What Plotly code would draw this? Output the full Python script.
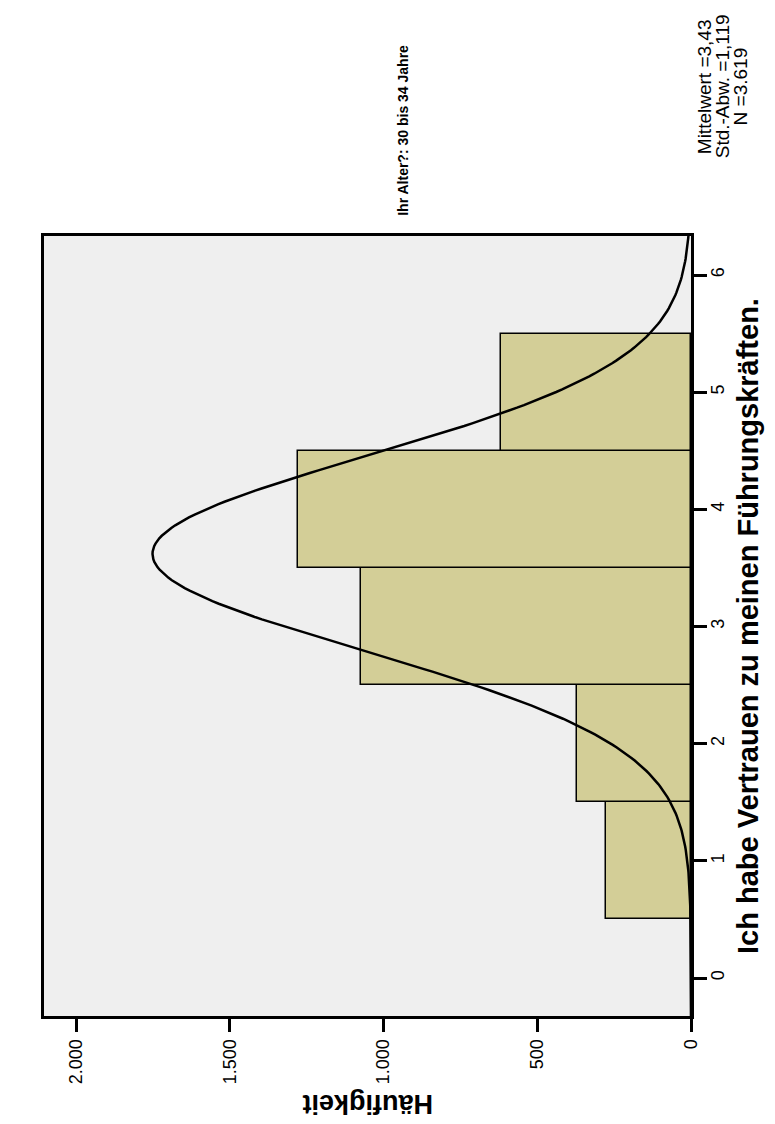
import plotly.graph_objects as go
import numpy as np

# histogram: answer categories and counts
categories = [1, 2, 3, 4, 5]
counts = [275, 372, 1075, 1280, 617]

# tick labels
freq_ticks = [0, 500, 1000, 1500, 2000]
freq_ticktext = ['0', '500', '1.000', '1.500', '2.000']
value_ticks = [0, 1, 2, 3, 4, 5, 6]

# statistics shown in the corner, one line each
stats_lines = ['Mittelwert =3,43', 'Std.-Abw. =1,119', 'N =3.619']

# normal curve as drawn in the picture (centre, spread, peak height)
curve_center = 3.62
curve_sd = 0.83
curve_peak = 1752

font_family = 'Liberation Sans, Arial, sans-serif'
bar_color = '#D3CE97'

curve_y = np.linspace(-0.33, 6.34, 300)
curve_x = curve_peak * np.exp(-0.5 * ((curve_y - curve_center) / curve_sd) ** 2)

fig = go.Figure()
fig.add_trace(go.Bar(
    x=counts, y=categories, orientation='h', width=1,
    marker=dict(color=bar_color, line=dict(color='black', width=1.5)),
    hoverinfo='x+y'
))
fig.add_trace(go.Scatter(
    x=curve_x, y=curve_y, mode='lines',
    line=dict(color='black', width=2.5), hoverinfo='skip'
))

fig.update_layout(
    width=775, height=1124,
    margin=dict(l=36, r=92, t=228, b=116),
    paper_bgcolor='white',
    plot_bgcolor='#EFEFEF',
    showlegend=False,
    bargap=0,
    font=dict(family=font_family, size=18, color='black'),
    xaxis=dict(
        range=[2105, 0], tickvals=freq_ticks, ticktext=freq_ticktext,
        tickangle=-90, ticks='outside', ticklen=13, tickwidth=2.5, tickcolor='black',
        showline=True, linecolor='black', linewidth=3, mirror=True,
        showgrid=False, zeroline=False, tickfont=dict(size=18)
    ),
    yaxis=dict(
        range=[-0.324, 6.333], side='right', tickvals=value_ticks,
        tickangle=-90, ticks='outside', ticklen=13, tickwidth=2.5, tickcolor='black',
        showline=True, linecolor='black', linewidth=3, mirror=True,
        showgrid=False, zeroline=False, tickfont=dict(size=18),
        ticklabelstandoff=-5
    ),
)

# axis titles and labels, rotated like the reference
fig.add_annotation(
    text='<b>Ich habe Vertrauen zu meinen Führungskräften.</b>',
    xref='paper', yref='paper', x=1.088, y=0.5, textangle=-90,
    xanchor='center', yanchor='middle',
    showarrow=False, font=dict(size=29)
)
fig.add_annotation(
    text='<b>Häufigkeit</b>',
    xref='paper', yref='paper', x=0.5, y=-0.113, textangle=180,
    xanchor='center', yanchor='middle',
    showarrow=False, font=dict(size=27)
)
fig.add_annotation(
    text='<b>Ihr Alter?: 30 bis 34 Jahre</b>',
    xref='paper', yref='paper', x=0.555, y=1.135, textangle=-90,
    xanchor='center', yanchor='middle',
    showarrow=False, font=dict(size=14)
)
for i, line in enumerate(stats_lines):
    fig.add_annotation(
        text=line,
        xref='paper', yref='paper', x=1.020 + i * 0.028, y=1.192, textangle=-90,
        xanchor='center', yanchor='middle',
        showarrow=False, font=dict(size=19)
    )

fig.write_html('out.html')
